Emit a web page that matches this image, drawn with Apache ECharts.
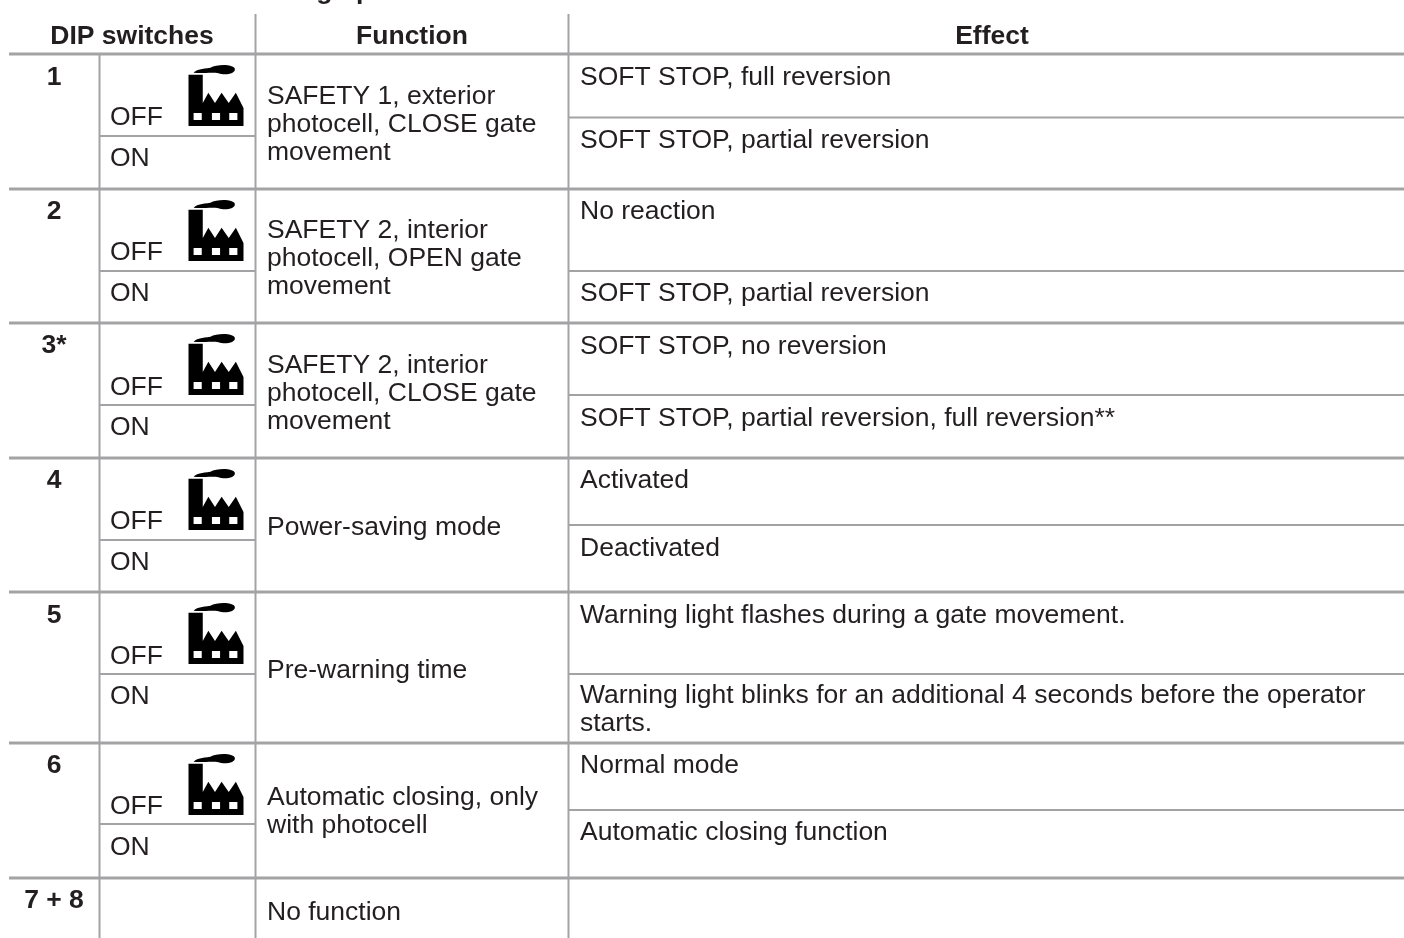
<!DOCTYPE html>
<html><head><meta charset="utf-8">
<style>html,body{margin:0;padding:0;background:#fff}#c{width:1404px;height:938px}</style>
<script src="https://cdn.jsdelivr.net/npm/echarts@6/dist/echarts.min.js"></script>
</head><body><div id="c"></div>
<script>
// ---- table content ----
const titleText = 'DIP switches: setting options';
const headers = ['DIP switches', 'Function', 'Effect'];
const dipLabels = ['1', '2', '3*', '4', '5', '6', '7 + 8'];
const offLabel = 'OFF';
const onLabel = 'ON';
const functionLines = [
  ['SAFETY 1, exterior', 'photocell, CLOSE gate', 'movement'],
  ['SAFETY 2, interior', 'photocell, OPEN gate', 'movement'],
  ['SAFETY 2, interior', 'photocell, CLOSE gate', 'movement'],
  ['Power-saving mode'],
  ['Pre-warning time'],
  ['Automatic closing, only', 'with photocell'],
  ['No function']
];
const effectOff = [
  ['SOFT STOP, full reversion'],
  ['No reaction'],
  ['SOFT STOP, no reversion'],
  ['Activated'],
  ['Warning light flashes during a gate movement.'],
  ['Normal mode']
];
const effectOn = [
  ['SOFT STOP, partial reversion'],
  ['SOFT STOP, partial reversion'],
  ['SOFT STOP, partial reversion, full reversion**'],
  ['Deactivated'],
  ['Warning light blinks for an additional 4 seconds before the operator', 'starts.'],
  ['Automatic closing function']
];

// ---- table geometry ----
const colRules = [99.5, 255.5, 568.5];
const colTop = 14;
const rowRules = [54, 189, 323, 458, 592, 743, 878];
const dipMidRules = [136, 271, 405, 540, 674, 824];
const effectMidRules = [117.5, 271, 395, 525, 674, 810];
const dipBase = [85, 219, 353, 488, 623, 773, 908];
const offBase = [125, 260, 395, 529, 664, 814];
const onBase = [166, 301, 435, 570, 704, 855];
const fnBase = [104, 238, 373, 535, 678, 805, 920];
const effOffBase = [85, 219, 354, 488, 623, 773];
const effOnBase = [148, 301, 426, 556, 703, 840];
const lineGap = 28;
const fontSize = 26.5;
const midOffset = 7.5;
const inkColor = '#231f20', ruleColor = '#a3a3a5';

const rules = [];
rowRules.forEach(y => rules.push([9, y, 1404, y, 3]));
dipMidRules.forEach(y => rules.push([colRules[0], y, colRules[1], y, 2]));
effectMidRules.forEach(y => rules.push([colRules[2], y, 1404, y, 2]));
rules.push([colRules[0], rowRules[0], colRules[0], 938, 2]);
rules.push([colRules[1], colTop, colRules[1], 938, 2]);
rules.push([colRules[2], colTop, colRules[2], 938, 2]);

const cells = [];
const put = (text, x, base, align, bold) => cells.push({text, x, y: base - midOffset, align, bold});
put(titleText, 66, -1, 'left', true);
put(headers[0], 132, 44, 'center', true);
put(headers[1], 412, 44, 'center', true);
put(headers[2], 992, 44, 'center', true);
dipLabels.forEach((t, i) => put(t, 54, dipBase[i], 'center', true));
offBase.forEach(b => put(offLabel, 110, b, 'left'));
onBase.forEach(b => put(onLabel, 110, b, 'left'));
functionLines.forEach((ls, i) => ls.forEach((t, k) => put(t, 267, fnBase[i] + k * lineGap, 'left')));
effectOff.forEach((ls, i) => ls.forEach((t, k) => put(t, 580, effOffBase[i] + k * lineGap, 'left')));
effectOn.forEach((ls, i) => ls.forEach((t, k) => put(t, 580, effOnBase[i] + k * lineGap, 'left')));

const factoryPath =
  'M0.5 10 H14.5 V38 L20 28 L26.5 38 L33 28 L40 38 L47 28 L54.5 43 V61 H0.5 Z ' +
  'M5.5 48 V55 H13.5 V48 Z M23.5 48 V55 H31.5 V48 Z M40.5 48 V55 H48.5 V48 Z ' +
  'M5.5 8 C8 5 14 4 22 3 C28 -0.5 44 -1 46 4 C47 9 36 11 30 8.5 C24 7 14 9 5.5 8 Z';
const iconX = 188.5, iconDy = 11, iconW = 55, iconH = 61;

const option = {
  animation: false,
  backgroundColor: '#ffffff',
  grid: {left: 0, right: 0, top: 0, bottom: 0},
  xAxis: {type: 'value', min: 0, max: 1404, show: false},
  yAxis: {type: 'value', min: 0, max: 938, inverse: true, show: false},
  series: [
    {
      type: 'custom', silent: true, clip: false,
      data: rules,
      encode: {x: [0, 2], y: [1, 3]},
      renderItem(p, api) {
        const a = api.coord([api.value(0), api.value(1)]);
        const b = api.coord([api.value(2), api.value(3)]);
        return {type: 'line', shape: {x1: a[0], y1: a[1], x2: b[0], y2: b[1]},
          style: {stroke: ruleColor, lineWidth: api.value(4)}};
      }
    },
    {
      type: 'custom', silent: true, clip: false,
      data: rowRules.slice(0, 6).map(y => [iconX, y + iconDy]),
      encode: {x: 0, y: 1},
      renderItem(p, api) {
        const a = api.coord([api.value(0), api.value(1)]);
        return {type: 'path',
          shape: {pathData: factoryPath, layout: 'cover', x: a[0], y: a[1], width: iconW, height: iconH},
          style: {fill: '#000000'}};
      }
    },
    {
      type: 'custom', silent: true, clip: false,
      data: cells.map(c => [c.x, c.y]),
      encode: {x: 0, y: 1},
      renderItem(p, api) {
        const c = cells[p.dataIndex];
        const a = api.coord([api.value(0), api.value(1)]);
        return {type: 'text', style: {
          x: a[0], y: a[1], text: c.text, fill: inkColor,
          font: (c.bold ? 'bold ' : '') + fontSize + 'px "Liberation Sans", Arial, sans-serif',
          textAlign: c.align, verticalAlign: 'middle'
        }};
      }
    }
  ]
};
echarts.init(document.getElementById('c'), null, {renderer: 'canvas'}).setOption(option);
</script>
</body></html>
